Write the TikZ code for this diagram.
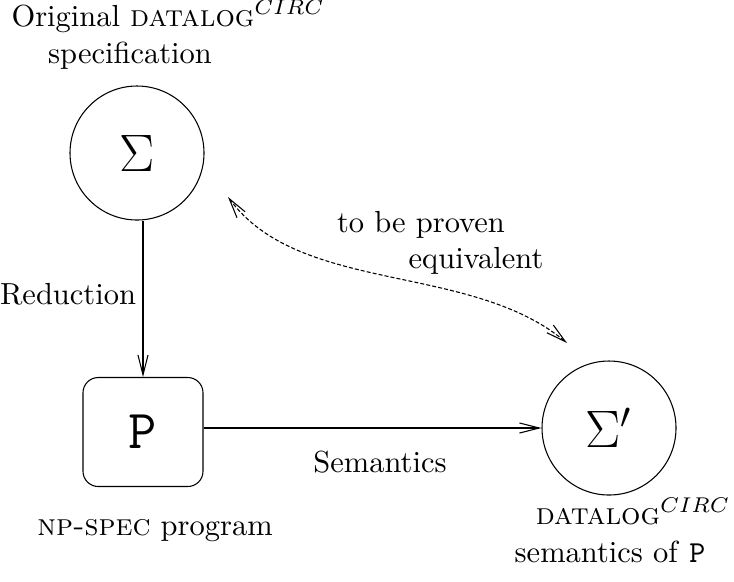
\documentclass[tikz,border=0pt]{standalone}
\usetikzlibrary{arrows.meta,calc}
\begin{document}
\begin{tikzpicture}[x=0.328pt,y=-0.328pt,line width=0.35pt,
  >={Straight Barb[length=6.5pt,width=3.3pt]},
  circ/.style={draw,circle,minimum size=134*0.328pt,inner sep=0pt},
  pbox/.style={draw,rounded corners=5pt,minimum width=120*0.328pt,minimum height=109*0.328pt,inner sep=0pt},
  lbl/.style={inner sep=0pt,anchor=base}]
\useasboundingbox (0,0) rectangle (734,581);
\node[circ] (s) at (137,153) {\fontsize{18}{22}\selectfont$\Sigma$};
\node[circ] (s2) at (609,428) {\fontsize{18}{22}\selectfont$\Sigma'$};
\node[pbox] (p) at (143,432) {\fontsize{18}{22}\selectfont\texttt{P}};
\node[lbl,anchor=base west] (t1) at (11,26) {Original \textsc{datalog}$^{CIRC}$};
\node[lbl] (t2) at (130,63) {specification};
\node[lbl] (red) at (68,304) {Reduction};
\node[lbl] (sem) at (380,472) {Semantics};
\node[lbl] (np) at (155,535) {\textsc{np-spec} program};
\node[lbl,anchor=base east] (d2) at (731,524) {\textsc{datalog}$^{CIRC}$};
\node[lbl] (sp) at (610,562) {semantics of \texttt{P}};
\node[lbl] (eq1) at (421,232) {to be proven};
\node[lbl] (eq2) at (476,268) {equivalent};
\coordinate (a1) at (228,197);
\coordinate (a2) at (567,343);
\draw[->] (p.north |- s.south) -- (p.north);
\draw[->] (p.east |- s2.west) -- (s2.west);
\draw[<->,dash pattern=on 1.3pt off 0.7pt] (a1) .. controls (300,295) and (470,262) .. (a2);
\end{tikzpicture}
\end{document}
